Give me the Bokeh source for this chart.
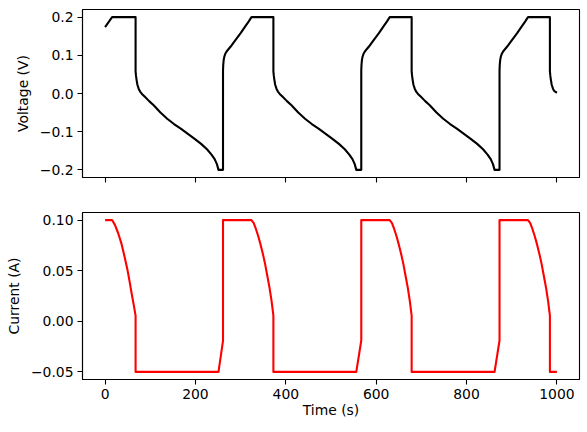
from bokeh.plotting import figure
from bokeh.layouts import column
from bokeh.models import Range1d, CustomJSTickFormatter, FixedTicker, ColumnDataSource
from bokeh.embed import file_html
from bokeh.resources import INLINE

# ---------------- data ----------------
# Voltage, cycle by cycle
time_v0 = [0, 15.5, 67.5, 67.5, 68.5, 69.5, 71.5, 74.5, 77.5, 81.5, 87.5, 97.5, 107.5,
           122.5, 137.5, 152.5, 167.5, 182.5, 197.5, 212.5, 225.5, 235.5, 242.5, 247.5, 251]
volt_v0 = [0.174, 0.2, 0.2, 0.058, 0.046, 0.037, 0.023, 0.012, 0.005, -0.001, -0.008, -0.020, -0.031,
           -0.050, -0.066, -0.080, -0.092, -0.105, -0.118, -0.132, -0.146, -0.160, -0.172, -0.185, -0.2]

time_v1 = [261, 261, 261.5, 262.5, 264, 266, 269, 273, 278, 286, 300, 311, 318, 324,
           372.5, 372.5, 373.5, 374.5, 376.5, 379.5, 382.5, 386.5, 392.5, 402.5, 412.5,
           427.5, 442.5, 457.5, 472.5, 487.5, 502.5, 517.5, 530.5, 540.5, 547.5, 552.5, 556]
volt_v1 = [-0.2, 0.06, 0.075, 0.088, 0.097, 0.104, 0.110, 0.116, 0.123, 0.136, 0.158, 0.177, 0.189, 0.2,
           0.2, 0.058, 0.046, 0.037, 0.023, 0.012, 0.005, -0.001, -0.008, -0.020, -0.031,
           -0.050, -0.066, -0.080, -0.092, -0.105, -0.118, -0.132, -0.146, -0.160, -0.172, -0.185, -0.2]

time_v2 = [567, 567, 567.5, 568.5, 570, 572, 575, 579, 584, 592, 606, 617, 624, 630,
           678.5, 678.5, 679.5, 680.5, 682.5, 685.5, 688.5, 692.5, 698.5, 708.5, 718.5,
           733.5, 748.5, 763.5, 778.5, 793.5, 808.5, 823.5, 836.5, 846.5, 853.5, 858.5, 862]
volt_v2 = [-0.2, 0.06, 0.075, 0.088, 0.097, 0.104, 0.110, 0.116, 0.123, 0.136, 0.158, 0.177, 0.189, 0.2,
           0.2, 0.058, 0.046, 0.037, 0.023, 0.012, 0.005, -0.001, -0.008, -0.020, -0.031,
           -0.050, -0.066, -0.080, -0.092, -0.105, -0.118, -0.132, -0.146, -0.160, -0.172, -0.185, -0.2]

time_v3 = [873, 873, 873.5, 874.5, 876, 878, 881, 885, 890, 898, 912, 923, 930, 936,
           984.5, 984.5, 985.5, 986.5, 988.5, 991.5, 994.5, 1000]
volt_v3 = [-0.2, 0.06, 0.075, 0.088, 0.097, 0.104, 0.110, 0.116, 0.123, 0.136, 0.158, 0.177, 0.189, 0.2,
           0.2, 0.058, 0.046, 0.037, 0.023, 0.012, 0.006, 0.002]

# Current, cycle by cycle
time_i0 = [0, 15.5, 22, 29, 36, 43, 49, 54, 59, 63.5, 67.5, 67.5, 251]
curr_i0 = [0.1, 0.1, 0.095, 0.087, 0.077, 0.064, 0.052, 0.040, 0.027, 0.016, 0.0056, -0.05, -0.05]

time_i1 = [261, 261, 324, 329, 334, 339, 344, 349, 354, 359, 364, 368.5, 372.5, 372.5, 556]
curr_i1 = [-0.019, 0.1, 0.1, 0.097, 0.091, 0.084, 0.076, 0.067, 0.057, 0.045, 0.033, 0.020, 0.0056, -0.05, -0.05]

time_i2 = [567, 567, 630, 635, 640, 645, 650, 655, 660, 665, 670, 674.5, 678.5, 678.5, 862]
curr_i2 = [-0.019, 0.1, 0.1, 0.097, 0.091, 0.084, 0.076, 0.067, 0.057, 0.045, 0.033, 0.020, 0.0056, -0.05, -0.05]

time_i3 = [873, 873, 936, 941, 946, 951, 956, 961, 966, 971, 976, 980.5, 984.5, 984.5, 1000]
curr_i3 = [-0.019, 0.1, 0.1, 0.097, 0.091, 0.084, 0.076, 0.067, 0.057, 0.045, 0.033, 0.020, 0.0056, -0.05, -0.05]

x_ticks = [0, 200, 400, 600, 800, 1000]
v_ticks = [-0.2, -0.1, 0.0, 0.1, 0.2]
i_ticks = [-0.05, 0.0, 0.05, 0.1]

# ---------------- build ----------------
volt_src = ColumnDataSource(dict(t=time_v0 + time_v1 + time_v2 + time_v3,
                                 v=volt_v0 + volt_v1 + volt_v2 + volt_v3))
curr_src = ColumnDataSource(dict(t=time_i0 + time_i1 + time_i2 + time_i3,
                                 i=curr_i0 + curr_i1 + curr_i2 + curr_i3))

FONT = "DejaVu Sans"
FS = "13.9px"

xr = Range1d(-50, 1050)

p1 = figure(width=586, height=197, x_range=xr, y_range=Range1d(-0.22, 0.22),
            output_backend="svg", toolbar_location=None, title=None,
            min_border_left=82, min_border_right=7, min_border_top=9, min_border_bottom=20)
p2 = figure(width=586, height=227, x_range=xr, y_range=Range1d(-0.0575, 0.1075),
            output_backend="svg", toolbar_location=None, title=None,
            min_border_left=82, min_border_right=7, min_border_top=15, min_border_bottom=45)

p1.line("t", "v", source=volt_src, line_color="black", line_width=2.1, line_join="round")
p2.line("t", "i", source=curr_src, line_color="#ff0000", line_width=2.1, line_join="round")

for p in (p1, p2):
    p.grid.visible = False
    p.outline_line_color = "black"
    p.outline_line_width = 1.1
    p.outline_line_alpha = 1.0
    p.background_fill_color = "white"
    p.border_fill_color = "white"
    for ax in p.axis:
        ax.axis_line_color = "black"
        ax.axis_line_width = 1.1
        ax.major_tick_line_color = "black"
        ax.major_tick_line_width = 1.1
        ax.major_tick_out = 5
        ax.major_tick_in = 0
        ax.minor_tick_line_color = None
        ax.major_label_text_font = FONT
        ax.major_label_text_font_size = FS
        ax.major_label_text_color = "black"
        ax.axis_label_text_font = FONT
        ax.axis_label_text_font_style = "normal"
        ax.axis_label_text_font_size = FS
        ax.axis_label_text_color = "black"
        ax.major_label_standoff = 4
        ax.axis_label_standoff = 6
    p.xaxis.ticker = FixedTicker(ticks=x_ticks)

p1.yaxis.ticker = FixedTicker(ticks=v_ticks)
p1.yaxis.formatter = CustomJSTickFormatter(code="return tick.toFixed(1).replace('-', '\u2212');")
p1.yaxis.axis_label = "Voltage (V)"
p1.xaxis.formatter = CustomJSTickFormatter(code="return '';")
p1.xaxis.major_label_text_font_size = "0px"
p1.xaxis.major_label_standoff = 0

p2.yaxis.ticker = FixedTicker(ticks=i_ticks)
p2.yaxis.formatter = CustomJSTickFormatter(code="return tick.toFixed(2).replace('-', '\u2212');")
p2.yaxis.axis_label = "Current (A)"
p2.xaxis.formatter = CustomJSTickFormatter(code="return tick.toFixed(0);")
p2.xaxis.axis_label = "Time (s)"
p2.xaxis.axis_label_standoff = 0

layout = column(p1, p2, spacing=0)
open("out.html", "w").write(file_html(layout, INLINE))
